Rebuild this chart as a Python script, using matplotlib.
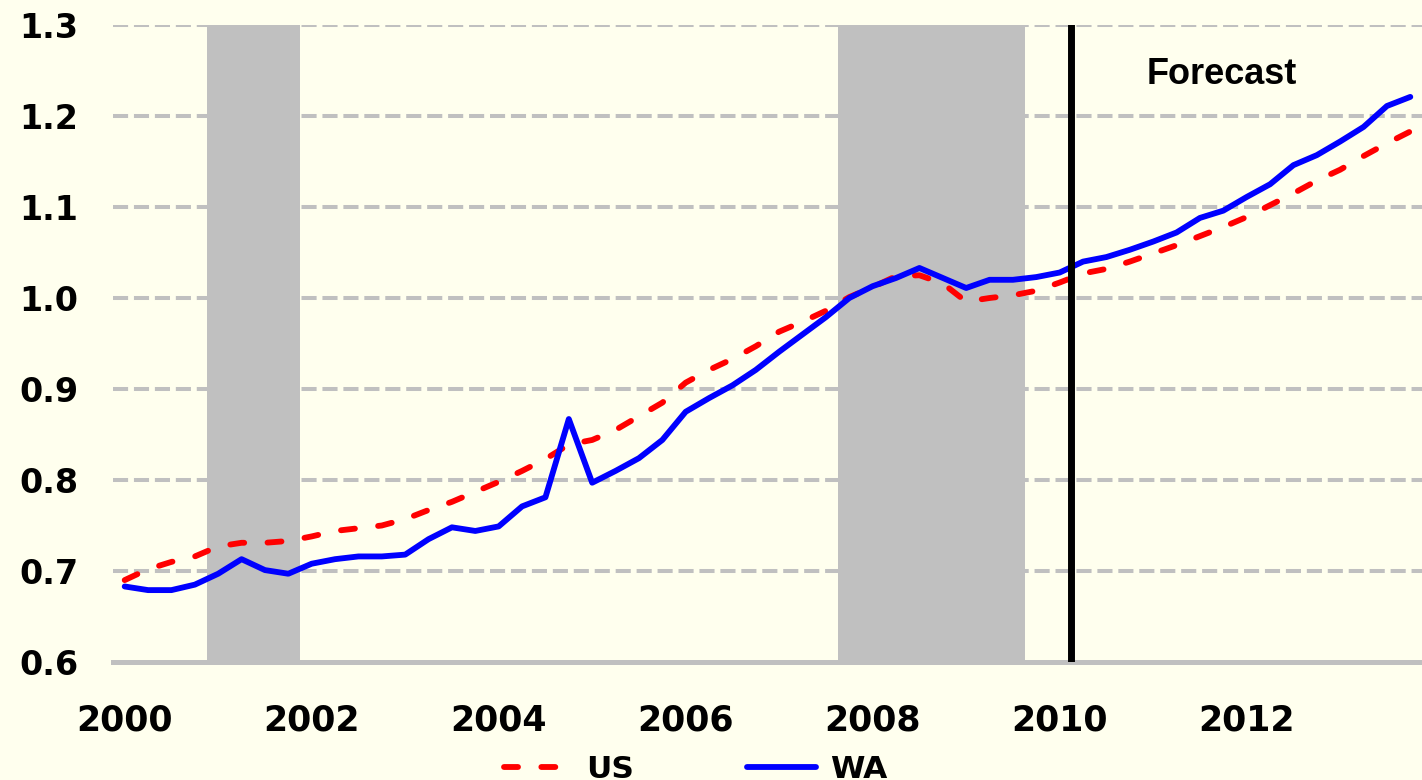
import numpy as np
import matplotlib
matplotlib.use("Agg")
import matplotlib.pyplot as plt
from matplotlib.lines import Line2D

# quarterly index, 2000Q1 .. 2013Q4
n_quarters = 56
x_years = 2000 + np.arange(n_quarters) / 4

us = [0.690, 0.702, 0.710, 0.716, 0.727, 0.731, 0.731, 0.733,
      0.738, 0.744, 0.747, 0.750, 0.757, 0.767, 0.776, 0.787,
      0.798, 0.810, 0.823, 0.839, 0.844, 0.855, 0.870, 0.885,
      0.907, 0.921, 0.933, 0.947, 0.963, 0.974, 0.986, 1.001,
      1.012, 1.024, 1.025, 1.016, 0.996, 1.000, 1.003, 1.008,
      1.017, 1.027, 1.032, 1.040, 1.049, 1.058, 1.068, 1.078,
      1.089, 1.102, 1.115, 1.129, 1.141, 1.156, 1.170, 1.183]

wa = [0.683, 0.679, 0.679, 0.685, 0.697, 0.713, 0.701, 0.697,
      0.708, 0.713, 0.716, 0.716, 0.718, 0.735, 0.748, 0.744,
      0.749, 0.771, 0.781, 0.867, 0.797, 0.810, 0.824, 0.844,
      0.875, 0.890, 0.904, 0.921, 0.941, 0.960, 0.979, 1.000,
      1.013, 1.022, 1.033, 1.022, 1.011, 1.020, 1.020, 1.023,
      1.028, 1.040, 1.045, 1.053, 1.062, 1.072, 1.088, 1.096,
      1.111, 1.125, 1.146, 1.157, 1.172, 1.188, 1.211, 1.221]

recessions = [(2000.875, 2001.875), (2007.625, 2009.625)]
forecast_start = 2010.125

x_ticks = [2000, 2002, 2004, 2006, 2008, 2010, 2012]
y_ticks = [0.6, 0.7, 0.8, 0.9, 1.0, 1.1, 1.2, 1.3]

bg = "#FFFFEE"
grid_c = "#C0C0C0"
lw_series = 4.2

fig = plt.figure(figsize=(14.22, 7.8), dpi=100, facecolor=bg)
ax = fig.add_axes([113 / 1422, 118 / 780, 1309 / 1422, 637 / 780])
ax.set_facecolor(bg)

for a, b in recessions:
    ax.axvspan(a, b, color=grid_c, lw=0, zorder=1)

for yv in y_ticks[1:]:
    ax.axhline(yv, color=grid_c, lw=2.9, dashes=(3.75, 1.45),
               dash_capstyle="butt", zorder=0.5)

ax.plot(x_years, us, color="#FF0000", lw=lw_series, dashes=(2.4, 4.0),
        dash_capstyle="round", solid_joinstyle="round", zorder=3)
ax.plot(x_years, wa, color="#0000FF", lw=lw_series,
        solid_capstyle="round", solid_joinstyle="round", zorder=4)

ax.axvline(forecast_start, color="black", lw=5, zorder=5)
ax.text(2011.73, 1.246, "Forecast", ha="center", va="center",
        fontsize=26, fontweight="bold", family="Liberation Sans", zorder=6)

ax.set_xlim(1999.875, 2013.875)
ax.set_ylim(0.6, 1.3)
ax.set_xticks(x_ticks)
ax.set_xticklabels([str(t) for t in x_ticks])
ax.set_yticks(y_ticks)
ax.set_yticklabels([f"{t:.1f}" for t in y_ticks])
ax.tick_params(axis="x", length=0, pad=30, labelsize=25)
ax.tick_params(axis="y", length=0, pad=25, labelsize=24)
for lab in ax.get_xticklabels() + ax.get_yticklabels():
    lab.set_fontweight("bold")

for side in ["top", "right", "left"]:
    ax.spines[side].set_visible(False)
ax.spines["bottom"].set_color(grid_c)
ax.spines["bottom"].set_linewidth(3.6)
ax.spines["bottom"].set_zorder(0.6)

handles = [
    Line2D([], [], color="#FF0000", lw=lw_series, dashes=(2.4, 4.0),
           dash_capstyle="round"),
    Line2D([], [], color="#0000FF", lw=lw_series, solid_capstyle="round"),
]
fig.legend(handles, ["US", "WA"], loc="center",
           bbox_to_anchor=(0.489, 0.0140), ncol=2, frameon=False,
           prop={"size": 22.5, "weight": "bold"}, handlelength=2.2,
           handletextpad=0.45, columnspacing=3.6)

fig.savefig("out.png", dpi=100, facecolor=bg)
